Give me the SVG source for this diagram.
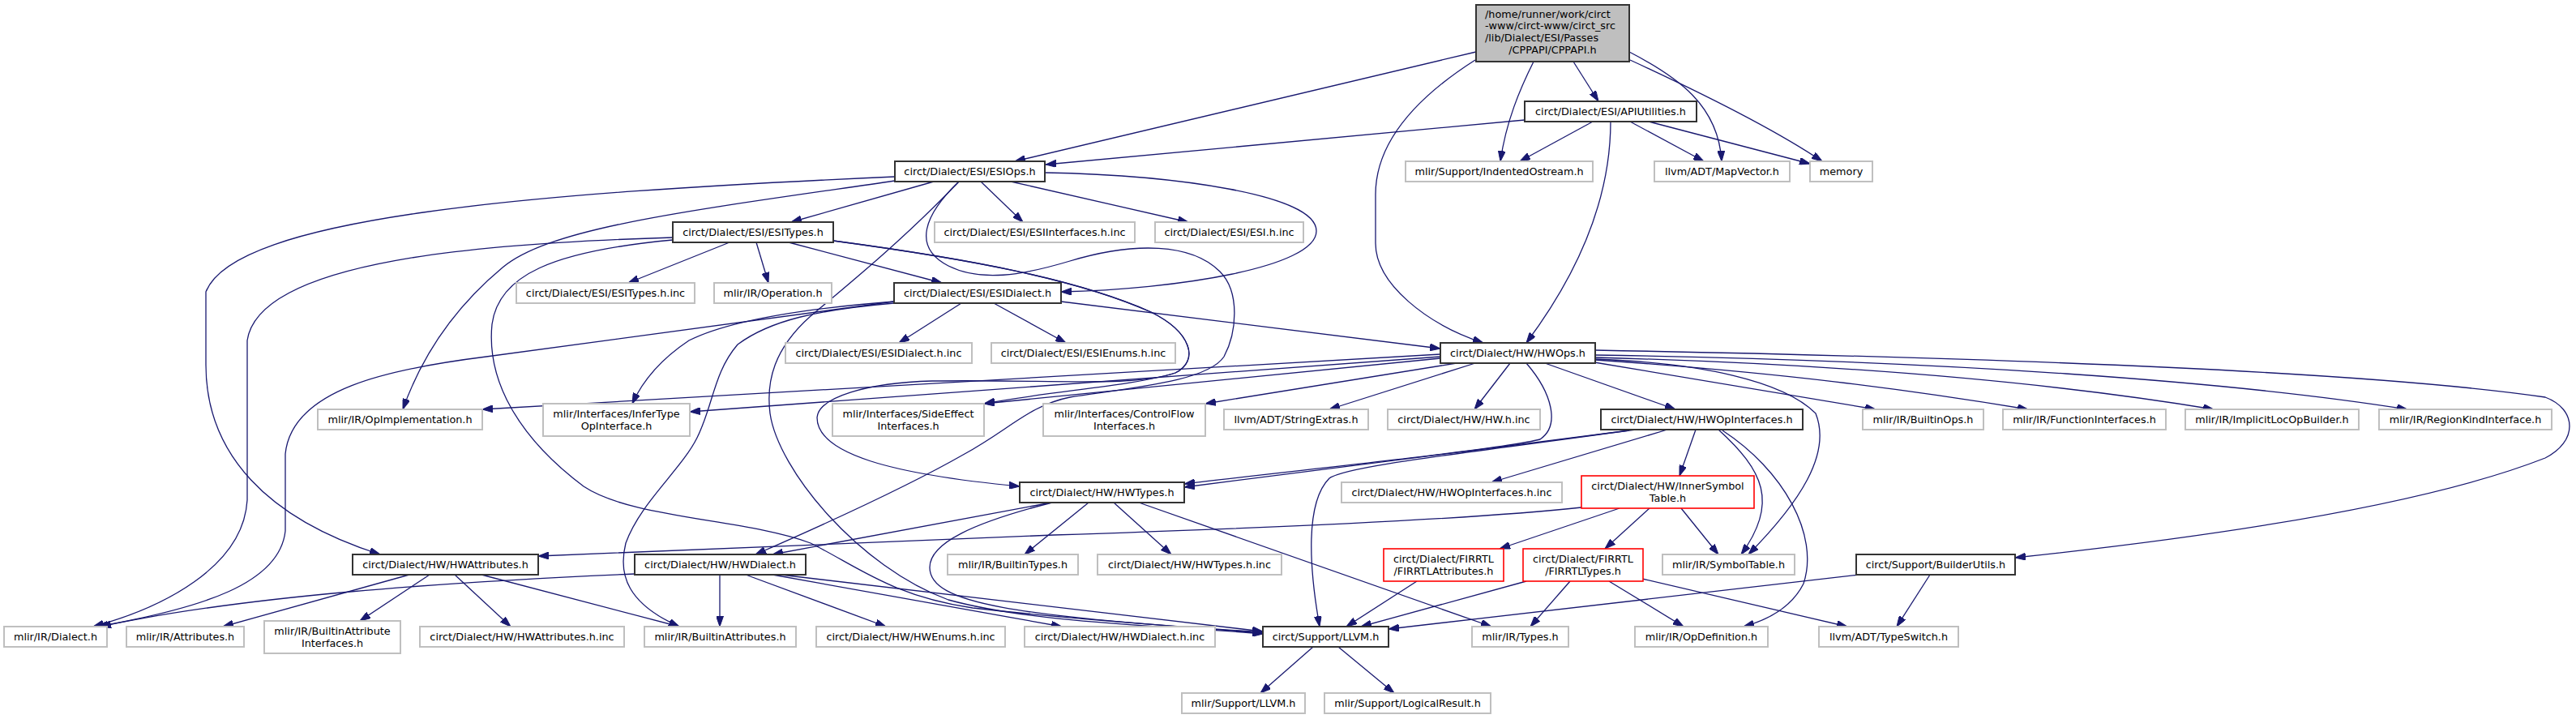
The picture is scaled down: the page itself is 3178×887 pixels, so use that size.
<svg xmlns="http://www.w3.org/2000/svg" width="3178" height="887" viewBox="0 0 3178 887">
<defs>
<marker id="ah" viewBox="0 0 13 9" refX="13" refY="4.5" markerWidth="13" markerHeight="9" markerUnits="userSpaceOnUse" orient="auto">
<path d="M0,0 L13,4.5 L0,9 z" fill="#191970" stroke="#191970" stroke-width="1"/>
</marker>
</defs>
<style>
.node rect{fill:#ffffff;stroke:#bfbfbf;stroke-width:2}
.node.doc rect{stroke:#333333}
.node.red rect{stroke:#ff0000;stroke-width:1.6}
.node.root rect{fill:#bfbfbf;stroke:#333333}
.node text{font-family:"DejaVu Sans","Liberation Sans",sans-serif;font-size:12.8px;fill:#000000;text-anchor:middle}
.node.root text.l{text-anchor:start}
#edges path{fill:none;stroke:#191970;stroke-width:1.3;marker-end:url(#ah)}
</style>
<rect x="0" y="0" width="3178" height="887" fill="#ffffff"/>
<g id="edges">
<path d="M1821,64 L1252,199"/>
<path d="M1892,76 C1875,110 1858,150 1851,199"/>
<path d="M1941,76 L1972,125"/>
<path d="M1820,74 C1740,125 1697,180 1697,240 L1697,300 C1697,350 1760,400 1830,423"/>
<path d="M2010,64 C2070,95 2120,130 2124,199"/>
<path d="M2011,74 C2100,115 2190,160 2248,199"/>
<path d="M1881,148 L1290,203"/>
<path d="M1965,150 L1875,199"/>
<path d="M1987,150 C1987,230 1960,320 1883,423"/>
<path d="M2011,150 L2102,199"/>
<path d="M2034,150 L2233,202"/>
<path d="M1152,224 L976,274"/>
<path d="M1210,224 L1262,274"/>
<path d="M1247,224 L1466,274"/>
<path d="M1289,213 C1450,216 1624,240 1624,285 C1624,330 1450,357 1309,360"/>
<path d="M1104,218 C650,238 290,268 254,360 L254,450 C254,560 330,640 469,684"/>
<path d="M1104,223 C850,260 680,280 620,330 C560,380 520,440 497,505"/>
<path d="M1183,224 C1120,290 1060,340 1000,390 C955,430 945,470 950,510 C960,580 1060,700 1170,740 C1280,770 1450,772 1558,782"/>
<path d="M1183,224 C1140,265 1125,305 1170,328 C1210,348 1260,340 1320,322 C1400,298 1470,300 1505,335 C1530,360 1526,410 1510,440 C1490,470 1400,478 1320,490 C1270,500 1245,530 1190,560 C1120,600 1010,650 932,684"/>
<path d="M900,299 L775,349"/>
<path d="M933,299 L948,349"/>
<path d="M973,299 L1162,349"/>
<path d="M830,293 C600,300 320,320 305,420 L305,617 C300,700 200,750 115,773"/>
<path d="M830,296 C680,310 615,340 607,400 C600,470 640,540 720,600 C780,640 920,640 1000,670 C1060,700 1100,735 1200,750 C1330,765 1450,772 1558,781"/>
<path d="M1028,297 C1200,320 1330,345 1420,385 C1470,410 1480,445 1450,460 C1400,478 1300,468 1150,470 C1070,472 1010,490 1008,515 C1008,560 1100,585 1258,600"/>
<path d="M1028,297 C1200,320 1330,345 1420,385 C1470,410 1480,445 1450,460 C1400,476 1300,482 1214,498"/>
<path d="M1186,374 L1109,423"/>
<path d="M1226,374 L1315,423"/>
<path d="M1309,372 L1777,430"/>
<path d="M1103,372 L600,440 C480,455 360,480 352,560 L352,655 C345,720 250,750 120,773"/>
<path d="M1103,372 C1000,380 900,395 850,420 C820,440 795,465 780,498"/>
<path d="M1103,374 C1010,382 950,395 910,425 C880,460 880,500 860,540 C840,580 790,620 772,670 C762,710 775,745 838,773"/>
<path d="M1777,437 L595,505"/>
<path d="M1777,440 L851,508"/>
<path d="M1777,442 L1214,498"/>
<path d="M1797,448 L1487,498"/>
<path d="M1820,448 L1640,505"/>
<path d="M1863,448 L1819,505"/>
<path d="M1906,448 L2067,505"/>
<path d="M1967,447 L2314,505"/>
<path d="M1968,444 C2200,460 2350,480 2502,505"/>
<path d="M1968,441 C2300,450 2550,475 2731,505"/>
<path d="M1968,438 C2400,445 2750,470 2970,505"/>
<path d="M1968,432 C2400,440 2900,455 3140,490 C3180,505 3180,545 3140,565 C3000,620 2750,660 2486,688"/>
<path d="M1883,448 C1915,485 1925,525 1900,542 C1850,555 1600,580 1461,597"/>
<path d="M1968,443 C2100,448 2200,470 2240,510 C2260,560 2220,620 2157,684"/>
<path d="M2018,530 L1461,601"/>
<path d="M2010,531 C1800,560 1660,575 1640,590 C1610,620 1615,700 1628,773"/>
<path d="M2057,530 L1840,595"/>
<path d="M2092,530 L2072,587"/>
<path d="M2120,530 C2175,580 2195,620 2148,684"/>
<path d="M2125,531 C2200,580 2245,660 2225,720 C2210,750 2180,765 2151,773"/>
<path d="M1998,627 L1850,677"/>
<path d="M2035,627 L1980,677"/>
<path d="M2074,627 L2120,684"/>
<path d="M1951,626 C1820,640 1550,652 1300,660 L664,686"/>
<path d="M1748,717 L1661,773"/>
<path d="M1883,717 L1679,773"/>
<path d="M1937,717 L1888,773"/>
<path d="M1985,717 L2077,773"/>
<path d="M2026,714 L2279,773"/>
<path d="M2294,709 L1713,776"/>
<path d="M2381,709 L2340,773"/>
<path d="M1620,798 L1555,855"/>
<path d="M1651,798 L1720,855"/>
<path d="M1297,620 L953,684"/>
<path d="M1343,620 L1264,684"/>
<path d="M1374,620 L1445,684"/>
<path d="M1405,620 L1840,773"/>
<path d="M1298,620 C1200,645 1147,670 1147,700 C1147,745 1250,760 1558,780"/>
<path d="M888,709 L888,773"/>
<path d="M920,709 L1093,773"/>
<path d="M953,709 L1310,773"/>
<path d="M963,709 L1558,779"/>
<path d="M783,708 C550,718 300,735 124,773"/>
<path d="M505,709 L275,773"/>
<path d="M530,709 L444,766"/>
<path d="M561,709 L630,773"/>
<path d="M594,709 L838,773"/>
</g>
<g id="n-root" class="node root"><rect x="1821" y="6" width="189" height="70"/><text class="l" x="1832" y="21.5">/home/runner/work/circt</text><text class="l" x="1832" y="36.2">-www/circt-www/circt_src</text><text class="l" x="1832" y="50.9">/lib/Dialect/ESI/Passes</text><text x="1915.5" y="65.6">/CPPAPI/CPPAPI.h</text></g>
<g id="n-apiutil" class="node doc"><rect x="1881" y="125" width="212" height="25"/><text x="1987" y="142">circt/Dialect/ESI/APIUtilities.h</text></g>
<g id="n-esiops" class="node doc"><rect x="1104" y="199" width="185" height="25"/><text x="1196.5" y="216">circt/Dialect/ESI/ESIOps.h</text></g>
<g id="n-indented" class="node"><rect x="1734" y="199" width="231" height="25"/><text x="1849.5" y="216">mlir/Support/IndentedOstream.h</text></g>
<g id="n-mapvector" class="node"><rect x="2041" y="199" width="167" height="25"/><text x="2124.5" y="216">llvm/ADT/MapVector.h</text></g>
<g id="n-memory" class="node"><rect x="2233" y="199" width="77" height="25"/><text x="2271.5" y="216">memory</text></g>
<g id="n-esitypes" class="node doc"><rect x="830" y="274" width="198" height="25"/><text x="929" y="291">circt/Dialect/ESI/ESITypes.h</text></g>
<g id="n-esiinterfaces" class="node"><rect x="1153" y="274" width="247" height="25"/><text x="1276.5" y="291">circt/Dialect/ESI/ESIInterfaces.h.inc</text></g>
<g id="n-esihinc" class="node"><rect x="1425" y="274" width="183" height="25"/><text x="1516.5" y="291">circt/Dialect/ESI/ESI.h.inc</text></g>
<g id="n-esitypesinc" class="node"><rect x="637" y="349" width="220" height="25"/><text x="747" y="366">circt/Dialect/ESI/ESITypes.h.inc</text></g>
<g id="n-operation" class="node"><rect x="881" y="349" width="145" height="25"/><text x="953.5" y="366">mlir/IR/Operation.h</text></g>
<g id="n-esidialect" class="node doc"><rect x="1103" y="349" width="206" height="25"/><text x="1206" y="366">circt/Dialect/ESI/ESIDialect.h</text></g>
<g id="n-esidialectinc" class="node"><rect x="969" y="423" width="230" height="25"/><text x="1084" y="440">circt/Dialect/ESI/ESIDialect.h.inc</text></g>
<g id="n-esienums" class="node"><rect x="1223" y="423" width="227" height="25"/><text x="1336.5" y="440">circt/Dialect/ESI/ESIEnums.h.inc</text></g>
<g id="n-hwops" class="node doc"><rect x="1777" y="423" width="191" height="25"/><text x="1872.5" y="440">circt/Dialect/HW/HWOps.h</text></g>
<g id="n-opimpl" class="node"><rect x="392" y="505" width="203" height="25"/><text x="493.5" y="522">mlir/IR/OpImplementation.h</text></g>
<g id="n-infertype" class="node"><rect x="670" y="498" width="181" height="40"/><text x="760.5" y="514.5">mlir/Interfaces/InferType</text><text x="760.5" y="529.5">OpInterface.h</text></g>
<g id="n-sideeffect" class="node"><rect x="1027" y="498" width="187" height="40"/><text x="1120.5" y="514.5">mlir/Interfaces/SideEffect</text><text x="1120.5" y="529.5">Interfaces.h</text></g>
<g id="n-controlflow" class="node"><rect x="1287" y="498" width="200" height="40"/><text x="1387" y="514.5">mlir/Interfaces/ControlFlow</text><text x="1387" y="529.5">Interfaces.h</text></g>
<g id="n-stringextras" class="node"><rect x="1510" y="505" width="178" height="25"/><text x="1599" y="522">llvm/ADT/StringExtras.h</text></g>
<g id="n-hwhinc" class="node"><rect x="1712" y="505" width="188" height="25"/><text x="1806" y="522">circt/Dialect/HW/HW.h.inc</text></g>
<g id="n-hwopinterfaces" class="node doc"><rect x="1975" y="505" width="249" height="25"/><text x="2099.5" y="522">circt/Dialect/HW/HWOpInterfaces.h</text></g>
<g id="n-builtinops" class="node"><rect x="2298" y="505" width="149" height="25"/><text x="2372.5" y="522">mlir/IR/BuiltinOps.h</text></g>
<g id="n-funcinterfaces" class="node"><rect x="2471" y="505" width="201" height="25"/><text x="2571.5" y="522">mlir/IR/FunctionInterfaces.h</text></g>
<g id="n-implicitloc" class="node"><rect x="2696" y="505" width="214" height="25"/><text x="2803" y="522">mlir/IR/ImplicitLocOpBuilder.h</text></g>
<g id="n-regionkind" class="node"><rect x="2935" y="505" width="213" height="25"/><text x="3041.5" y="522">mlir/IR/RegionKindInterface.h</text></g>
<g id="n-hwtypes" class="node doc"><rect x="1258" y="595" width="203" height="25"/><text x="1359.5" y="612">circt/Dialect/HW/HWTypes.h</text></g>
<g id="n-hwopinterfacesinc" class="node"><rect x="1655" y="595" width="272" height="25"/><text x="1791" y="612">circt/Dialect/HW/HWOpInterfaces.h.inc</text></g>
<g id="n-innersym" class="node red"><rect x="1951" y="587" width="213" height="40"/><text x="2057.5" y="603.5">circt/Dialect/HW/InnerSymbol</text><text x="2057.5" y="618.5">Table.h</text></g>
<g id="n-hwattributes" class="node doc"><rect x="435" y="684" width="229" height="25"/><text x="549.5" y="701">circt/Dialect/HW/HWAttributes.h</text></g>
<g id="n-hwdialect" class="node doc"><rect x="783" y="684" width="211" height="25"/><text x="888.5" y="701">circt/Dialect/HW/HWDialect.h</text></g>
<g id="n-builtintypes" class="node"><rect x="1169" y="684" width="161" height="25"/><text x="1249.5" y="701">mlir/IR/BuiltinTypes.h</text></g>
<g id="n-hwtypesinc" class="node"><rect x="1354" y="684" width="227" height="25"/><text x="1467.5" y="701">circt/Dialect/HW/HWTypes.h.inc</text></g>
<g id="n-firrtlattr" class="node red"><rect x="1707" y="677" width="148" height="40"/><text x="1781" y="693.5">circt/Dialect/FIRRTL</text><text x="1781" y="708.5">/FIRRTLAttributes.h</text></g>
<g id="n-firrtltypes" class="node red"><rect x="1879" y="677" width="148" height="40"/><text x="1953" y="693.5">circt/Dialect/FIRRTL</text><text x="1953" y="708.5">/FIRRTLTypes.h</text></g>
<g id="n-symboltable" class="node"><rect x="2051" y="684" width="163" height="25"/><text x="2132.5" y="701">mlir/IR/SymbolTable.h</text></g>
<g id="n-builderutils" class="node doc"><rect x="2290" y="684" width="196" height="25"/><text x="2388" y="701">circt/Support/BuilderUtils.h</text></g>
<g id="n-dialect" class="node"><rect x="5" y="773" width="127" height="25"/><text x="68.5" y="790">mlir/IR/Dialect.h</text></g>
<g id="n-attributes" class="node"><rect x="156" y="773" width="145" height="25"/><text x="228.5" y="790">mlir/IR/Attributes.h</text></g>
<g id="n-builtinattrif" class="node"><rect x="326" y="766" width="168" height="40"/><text x="410" y="782.5">mlir/IR/BuiltinAttribute</text><text x="410" y="797.5">Interfaces.h</text></g>
<g id="n-hwattrinc" class="node"><rect x="518" y="773" width="252" height="25"/><text x="644" y="790">circt/Dialect/HW/HWAttributes.h.inc</text></g>
<g id="n-builtinattrs" class="node"><rect x="795" y="773" width="187" height="25"/><text x="888.5" y="790">mlir/IR/BuiltinAttributes.h</text></g>
<g id="n-hwenums" class="node"><rect x="1007" y="773" width="233" height="25"/><text x="1123.5" y="790">circt/Dialect/HW/HWEnums.h.inc</text></g>
<g id="n-hwdialectinc" class="node"><rect x="1264" y="773" width="235" height="25"/><text x="1381.5" y="790">circt/Dialect/HW/HWDialect.h.inc</text></g>
<g id="n-llvm" class="node doc"><rect x="1558" y="773" width="155" height="25"/><text x="1635.5" y="790">circt/Support/LLVM.h</text></g>
<g id="n-types" class="node"><rect x="1816" y="773" width="119" height="25"/><text x="1875.5" y="790">mlir/IR/Types.h</text></g>
<g id="n-opdef" class="node"><rect x="2017" y="773" width="164" height="25"/><text x="2099" y="790">mlir/IR/OpDefinition.h</text></g>
<g id="n-typeswitch" class="node"><rect x="2244" y="773" width="172" height="25"/><text x="2330" y="790">llvm/ADT/TypeSwitch.h</text></g>
<g id="n-mlirllvm" class="node"><rect x="1458" y="855" width="152" height="25"/><text x="1534" y="872">mlir/Support/LLVM.h</text></g>
<g id="n-logicalresult" class="node"><rect x="1634" y="855" width="205" height="25"/><text x="1736.5" y="872">mlir/Support/LogicalResult.h</text></g>
</svg>
